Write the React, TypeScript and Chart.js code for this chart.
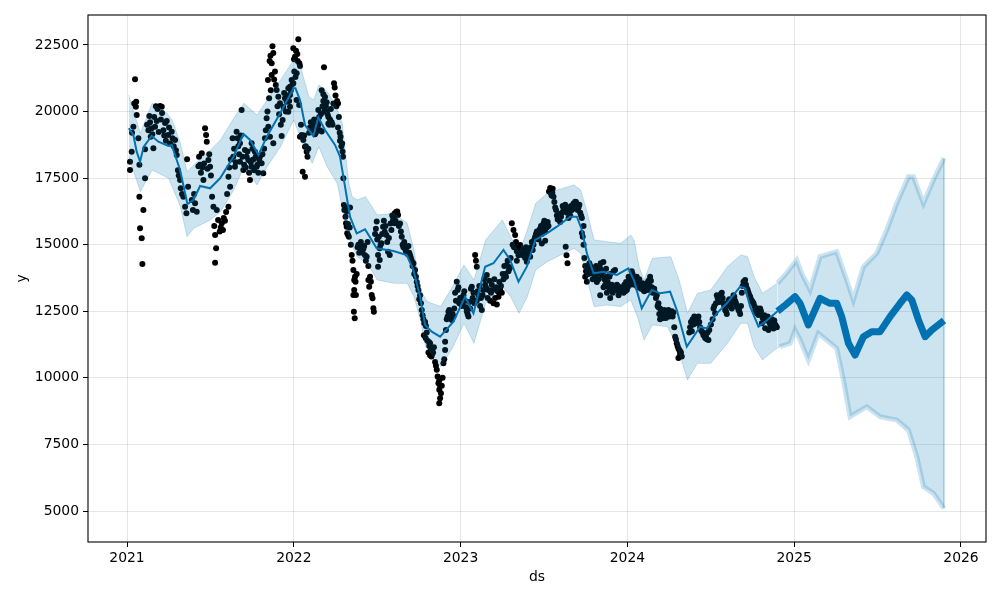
import React, { useEffect, useRef } from 'react';
import { Chart, registerables } from 'chart.js';

Chart.register(...registerables);

// ---- axis ticks ----
const xTickValues = [2021, 2022, 2023, 2024, 2025, 2026];
const yTickValues = [5000, 7500, 10000, 12500, 15000, 17500, 20000, 22500];
const X_MIN = 2020.766;
const X_MAX = 2026.15;
const Y_MIN = 3836;
const Y_MAX = 23626;
const FUTURE_START = 2024.9;

// ---- observations (decimal year, value) ----
const obsYears = [
  2021.018, 2021.018, 2021.028, 2021.030, 2021.038, 2021.043, 2021.048, 2021.053, 2021.055, 2021.058, 2021.068, 2021.074, 2021.074, 2021.078, 2021.088, 2021.092, 2021.098, 2021.108, 2021.108,
  2021.134, 2021.142, 2021.148, 2021.158, 2021.168, 2021.178, 2021.190, 2021.198, 2021.208, 2021.210, 2021.218, 2021.228, 2021.238, 2021.246, 2021.268, 2021.288, 2021.298, 2021.318, 2021.322, 2021.338, 2021.348, 2021.356, 2021.360, 2021.366,
  2021.388, 2021.408, 2021.418, 2021.428, 2021.438, 2021.448, 2021.452, 2021.458, 2021.462, 2021.468, 2021.474, 2021.478, 2021.482, 2021.488, 2021.498, 2021.518, 2021.528, 2021.528, 2021.534, 2021.538, 2021.546, 2021.556, 2021.562, 2021.568, 2021.580, 2021.594, 2021.608, 2021.608, 2021.618,
  2021.633, 2021.637, 2021.647, 2021.657, 2021.667, 2021.677, 2021.677, 2021.687, 2021.697, 2021.707, 2021.717, 2021.727, 2021.737, 2021.747, 2021.747, 2021.757, 2021.767, 2021.777, 2021.797, 2021.807, 2021.817, 2021.827, 2021.837, 2021.845, 2021.847, 2021.855, 2021.857, 2021.860, 2021.867, 2021.867, 2021.872, 2021.877, 2021.877,
  2021.897, 2021.907, 2021.917, 2021.927, 2021.933, 2021.937, 2021.957, 2021.967, 2021.967, 2021.977, 2021.977, 2021.977, 2021.987, 2021.993, 2021.997, 2021.997, 2022.001, 2022.007, 2022.013, 2022.017, 2022.017, 2022.021, 2022.027, 2022.033, 2022.032, 2022.037, 2022.037, 2022.047, 2022.053, 2022.057, 2022.067, 2022.067, 2022.077,
  2022.107, 2022.117, 2022.127, 2022.137, 2022.147, 2022.147, 2022.157, 2022.167, 2022.167, 2022.177, 2022.177, 2022.181, 2022.187, 2022.197, 2022.197, 2022.207, 2022.207, 2022.217, 2022.227, 2022.241, 2022.250, 2022.255, 2022.260, 2022.265, 2022.265, 2022.275, 2022.280, 2022.285, 2022.290, 2022.297,
  2022.300, 2022.303, 2022.307, 2022.310, 2022.313, 2022.317, 2022.317, 2022.320, 2022.325, 2022.325, 2022.335, 2022.337, 2022.347, 2022.357, 2022.357, 2022.360, 2022.362, 2022.362, 2022.365, 2022.367, 2022.370, 2022.372, 2022.397, 2022.407, 2022.412, 2022.417, 2022.427, 2022.437, 2022.447, 2022.452, 2022.457, 2022.462, 2022.467, 2022.472, 2022.477, 2022.480,
  2022.497, 2022.505, 2022.505, 2022.515, 2022.515, 2022.525, 2022.535, 2022.545, 2022.555, 2022.565, 2022.575, 2022.585, 2022.595, 2022.605, 2022.605, 2022.615, 2022.625, 2022.637, 2022.642, 2022.647, 2022.652, 2022.657, 2022.662, 2022.667, 2022.687, 2022.692, 2022.697, 2022.707, 2022.717, 2022.727, 2022.732, 2022.737, 2022.742, 2022.757, 2022.762, 2022.767,
  2022.777, 2022.782, 2022.787, 2022.792, 2022.780, 2022.790, 2022.800, 2022.810, 2022.817, 2022.807, 2022.817, 2022.825, 2022.835, 2022.857, 2022.862, 2022.867, 2022.872, 2022.872, 2022.877, 2022.882, 2022.877, 2022.872, 2022.887, 2022.897, 2022.902, 2022.907, 2022.907, 2022.917, 2022.927, 2022.937, 2022.947, 2022.957,
  2022.967, 2022.977, 2022.987, 2022.997, 2023.007, 2023.017, 2023.027, 2023.037, 2023.047, 2023.057, 2023.067, 2023.077, 2023.087, 2023.092, 2023.097, 2023.097, 2023.107, 2023.117, 2023.127, 2023.147, 2023.157, 2023.167, 2023.177, 2023.187, 2023.197, 2023.207, 2023.217, 2023.227, 2023.237, 2023.247, 2023.257, 2023.267, 2023.277, 2023.287, 2023.297,
  2023.300, 2023.307, 2023.317, 2023.320, 2023.327, 2023.337, 2023.337, 2023.347, 2023.357, 2023.367, 2023.377, 2023.387, 2023.397, 2023.407, 2023.417, 2023.437, 2023.447, 2023.457, 2023.467, 2023.477, 2023.487, 2023.487, 2023.497, 2023.507, 2023.507, 2023.517, 2023.527,
  2023.530, 2023.537, 2023.545, 2023.550, 2023.557, 2023.567, 2023.577, 2023.587, 2023.597, 2023.607, 2023.617, 2023.627, 2023.630, 2023.635, 2023.637, 2023.641, 2023.647, 2023.657, 2023.667, 2023.677, 2023.687, 2023.697, 2023.707, 2023.717, 2023.727, 2023.727, 2023.737, 2023.742, 2023.747, 2023.747, 2023.752, 2023.757,
  2023.777, 2023.797, 2023.817, 2023.817, 2023.837, 2023.837, 2023.840, 2023.856, 2023.857, 2023.857, 2023.877, 2023.877, 2023.897, 2023.897, 2023.917, 2023.926, 2023.937, 2023.947, 2023.957, 2023.967, 2023.977, 2023.997, 2024.017,
  2024.026, 2024.036, 2024.046, 2024.056, 2024.066, 2024.076, 2024.086, 2024.096, 2024.106, 2024.116, 2024.126, 2024.136, 2024.146, 2024.156, 2024.166, 2024.176, 2024.186, 2024.186, 2024.196, 2024.196, 2024.206, 2024.216, 2024.216, 2024.226, 2024.236, 2024.246, 2024.256, 2024.266, 2024.276,
  2024.286, 2024.296, 2024.306, 2024.306, 2024.316, 2024.316, 2024.326, 2024.376, 2024.386, 2024.396, 2024.406, 2024.416, 2024.426, 2024.436, 2024.446, 2024.456, 2024.466, 2024.476, 2024.486,
  2024.516, 2024.526, 2024.536, 2024.546, 2024.556, 2024.566, 2024.576, 2024.586, 2024.596, 2024.606, 2024.616, 2024.626, 2024.636, 2024.646, 2024.656, 2024.666, 2024.676, 2024.696, 2024.706, 2024.716, 2024.726, 2024.736, 2024.746, 2024.756, 2024.766, 2024.776, 2024.786, 2024.796, 2024.806, 2024.816, 2024.826, 2024.836, 2024.846, 2024.856, 2024.866, 2024.876, 2024.886, 2024.896,
];
const obsValues = [
  18118, 17806, 18493, 19200, 19432, 20300, 21212, 20183, 20371, 19871, 18996, 18000, 16804, 15617, 15242, 14276, 16304, 18583, 17494,
  19834, 19057, 19372, 18620, 19432, 19650, 19233, 20209, 20183, 19946, 19300, 19570, 19650, 19120, 19245, 18933, 18369, 17430, 17119, 16804, 16428, 16180, 18209, 17179,
  16680, 16555, 16240, 17950, 18000, 18431, 17900, 17430, 18050, 19372, 19120, 18870, 17850, 18181, 17931, 16428, 15365, 14326, 14865, 16304, 15929, 15500, 15650, 15803, 16000, 16228, 16428, 17554, 17179,
  18996, 18306, 17931, 19245, 18700, 18118, 18808, 20059, 17806, 18557, 18306, 18181, 17430, 18808, 17931, 18200, 18493, 17931, 18306, 18056, 17681, 19000, 19747, 21186, 19432, 21900, 19057, 22100, 21374, 21813, 22450, 18808, 22200,
  20810, 20559, 20310, 19083, 19684, 20183, 20371, 19996, 20874, 20623, 20183, 20936, 21186, 21036, 21061, 22376, 21963, 22061, 22286, 21437, 20435, 22162, 22714, 21813, 20247, 21712, 19057, 19120, 17743, 18933, 18682, 17554, 18493,
  19400, 19300, 19150, 19350, 19500, 20059, 19300, 19250, 20800, 20650, 20400, 21662, 20550, 20350, 20000, 19800, 19550, 19700, 19600, 21061, 20600, 20200, 20400, 20300, 19400, 19200, 19050, 18700, 18800, 17494,
  16492, 16304, 16400, 16054, 15803, 16250, 15678, 15428, 15366, 15780, 15650, 16400, 14615, 14051, 13113, 12487, 13676, 13300, 12237, 13800, 13611, 13113, 14990, 14800, 14700, 14850, 14600, 14550, 13676, 13424, 13800, 13611, 13113, 12988, 12612, 12487,
  15867, 14614, 14174, 14865, 14426, 15052, 15677, 15490, 15365, 14740, 14615, 15553, 15929, 16180, 15803, 16240, 16115, 15800, 15500, 15300, 15000, 14900, 15100, 14850, 14950, 14700, 14600, 14400, 14300, 14050, 13800, 13600, 13450, 13100, 12800, 12550,
  12200, 12050, 12100, 11950, 11600, 11500, 11400, 11350, 11300, 10950, 10850, 10800, 10950, 10300, 10050, 9800, 9900, 9550, 9700, 9420, 9230, 9045, 9700, 10547, 10700, 11360, 11047, 12200, 12487, 12350, 12174, 12300,
  13200, 13611, 13400, 13000, 12700, 13100, 12900, 12500, 12300, 12600, 13424, 13200, 14615, 14400, 14176, 12900, 13100, 12700, 12549, 13500, 13864, 13300, 12900, 13500, 12800, 13000, 12750, 13050, 13300, 13200, 13700, 13900, 14239, 14000, 14150,
  14500, 15803, 15553, 14900, 15365, 14750, 14400, 14600, 14990, 14700, 14800, 14500, 14364, 14700, 14550, 15000, 15300, 15500, 15200, 15600, 15400, 15050, 15800, 15500, 15150, 15650, 15700,
  17000, 17131, 16850, 16950, 16800, 16400, 16100, 16000, 15850, 16200, 16350, 16500, 14927, 14600, 16200, 14302, 16000, 16100, 16300, 16550, 16617, 16500, 16400, 16200, 16000, 15441, 15000, 14500, 14200, 13800, 14000, 13611,
  14200, 13900, 13900, 13600, 14100, 13100, 14300, 14350, 14000, 13400, 13800, 13200, 13900, 13000, 14000, 14051, 13500, 13100, 13350, 13250, 13200, 13300, 13500,
  14000, 13700, 13650, 13800, 13600, 13450, 13400, 13300, 13500, 13550, 13650, 13800, 13400, 13300, 13200, 13100, 12800, 12650, 12600, 12200, 12500, 12450, 12250, 12350, 12400, 12550, 12350, 12500, 12450,
  11547, 11300, 11100, 10750, 10900, 11000, 10800, 11900, 11750, 12000, 12200, 12150, 12300, 11900, 11750, 11600, 11500, 11450, 11420,
  12600, 12424, 13100, 12950, 13100, 13200, 12800, 12550, 12400, 12900, 12800, 12600, 13100, 12900, 12700, 12550, 12400, 13611, 13676, 13363, 13200, 13049, 12900, 12800, 12549, 12424, 12362, 12600, 12049, 12300, 11861, 12200, 11798, 12000, 12200, 11850, 12000, 11900,
];

// ---- more observations read between the clusters above ----
const obsYears2 = [
  2021.120, 2021.128, 2021.138, 2021.152, 2021.163, 2021.173, 2021.183, 2021.203, 2021.223, 2021.233, 2021.252, 2021.258, 2021.273, 2021.280, 2021.293, 2021.305, 2021.310, 2021.330,
  2021.395, 2021.402, 2021.432, 2021.443, 2021.493, 2021.503, 2021.510, 2021.523, 2021.575, 2021.587, 2021.600, 2021.613, 2021.622,
  2021.642, 2021.652, 2021.662, 2021.672, 2021.682, 2021.692, 2021.702, 2021.712, 2021.722, 2021.732, 2021.742, 2021.752, 2021.762, 2021.772, 2021.782, 2021.787, 2021.792, 2021.812, 2021.822, 2021.832, 2021.842, 2021.852, 2021.862, 2021.882, 2021.887, 2021.892,
  2021.902, 2021.912, 2021.922, 2021.942, 2021.947, 2021.952, 2021.962, 2021.972, 2021.982, 2022.003, 2022.010, 2022.023, 2022.043, 2022.062, 2022.072, 2022.082, 2022.087,
  2022.092, 2022.097, 2022.102, 2022.112, 2022.122, 2022.132, 2022.142, 2022.152, 2022.162, 2022.172, 2022.182, 2022.192, 2022.202, 2022.212, 2022.222, 2022.232, 2022.237, 2022.245, 2022.270, 2022.277, 2022.292, 2022.295,
  2022.330, 2022.342, 2022.352, 2022.377, 2022.382, 2022.387, 2022.392, 2022.402, 2022.422, 2022.432, 2022.442, 2022.447, 2022.487, 2022.492,
  2022.500, 2022.510, 2022.520, 2022.530, 2022.540, 2022.550, 2022.560, 2022.570, 2022.580, 2022.590, 2022.600, 2022.610, 2022.620, 2022.630, 2022.672, 2022.677, 2022.682, 2022.702, 2022.712, 2022.722, 2022.747, 2022.752,
  2022.772, 2022.797, 2022.812, 2022.822, 2022.830, 2022.840, 2022.847, 2022.852, 2022.892, 2022.912, 2022.922, 2022.932, 2022.942, 2022.952, 2022.962,
  2022.972, 2022.982, 2022.992, 2023.002, 2023.012, 2023.022, 2023.032, 2023.042, 2023.052, 2023.062, 2023.072, 2023.082, 2023.102, 2023.112, 2023.122, 2023.132, 2023.137, 2023.142, 2023.152, 2023.162, 2023.172, 2023.182, 2023.192, 2023.202, 2023.212, 2023.222, 2023.232, 2023.242, 2023.252, 2023.262, 2023.272, 2023.282, 2023.292,
  2023.312, 2023.332, 2023.342, 2023.352, 2023.362, 2023.372, 2023.382, 2023.392, 2023.402, 2023.412, 2023.422, 2023.427, 2023.432, 2023.442, 2023.452, 2023.462, 2023.472, 2023.482, 2023.492, 2023.502, 2023.512, 2023.522, 2023.540, 2023.552,
  2023.562, 2023.572, 2023.582, 2023.592, 2023.602, 2023.612, 2023.622, 2023.642, 2023.652, 2023.662, 2023.672, 2023.682, 2023.692, 2023.702, 2023.712, 2023.722, 2023.732, 2023.737,
  2023.762, 2023.767, 2023.772, 2023.782, 2023.787, 2023.792, 2023.802, 2023.807, 2023.812, 2023.822, 2023.827, 2023.832, 2023.847, 2023.862, 2023.867, 2023.872, 2023.882, 2023.887, 2023.892, 2023.902, 2023.907, 2023.912, 2023.922, 2023.932, 2023.942, 2023.952, 2023.962, 2023.972, 2023.982, 2023.987, 2023.992, 2024.002, 2024.007, 2024.012, 2024.022, 2024.031, 2024.041, 2024.051, 2024.061, 2024.071,
  2024.081, 2024.091, 2024.101, 2024.111, 2024.121, 2024.131, 2024.141, 2024.151, 2024.161, 2024.171, 2024.181, 2024.191, 2024.201, 2024.211, 2024.221, 2024.231, 2024.241, 2024.251, 2024.261, 2024.271, 2024.281, 2024.291, 2024.301, 2024.311, 2024.321,
  2024.371, 2024.381, 2024.391, 2024.401, 2024.411, 2024.421, 2024.431, 2024.441, 2024.451, 2024.461, 2024.471, 2024.481, 2024.491, 2024.501, 2024.511,
  2024.521, 2024.531, 2024.541, 2024.551, 2024.561, 2024.571, 2024.581, 2024.591, 2024.601, 2024.611, 2024.621, 2024.631, 2024.641, 2024.651, 2024.661, 2024.671, 2024.681, 2024.686, 2024.691, 2024.701, 2024.711, 2024.721, 2024.731, 2024.741, 2024.751, 2024.761, 2024.771, 2024.781, 2024.791, 2024.801, 2024.811, 2024.821, 2024.831, 2024.841, 2024.851, 2024.861, 2024.871, 2024.881, 2024.891,
];
const obsValues2 = [
  19500, 19300, 19600, 19150, 19800, 20200, 20100, 19700, 19100, 18900, 19400, 18800, 19000, 18700, 18550, 17800, 17600, 16900,
  16300, 16900, 18300, 17700, 18400, 17600, 16800, 15700, 15550, 15900, 16900, 17900, 18200,
  18600, 18100, 19000, 18400, 19100, 18300, 18000, 17900, 18500, 17700, 18100, 18600, 17800, 18300, 18000, 17700, 18200, 18400, 18600, 19300, 20000, 20500, 20800, 21200, 21500, 21000,
  20200, 19900, 19500, 20700, 20500, 20000, 20600, 20400, 20800, 21500, 21300, 21900, 19500, 19100, 18700, 18300, 18600,
  19200, 19400, 19600, 19500, 19700, 19200, 19600, 19800, 19900, 20200, 20000, 20200, 19900, 19500, 20100, 19500, 20300, 20900, 19800, 18900, 18500, 18300,
  15300, 15000, 14400, 13900, 14900, 15000, 14700, 15100, 14950, 14400, 15100, 14200, 15400, 15600,
  15200, 15300, 15000, 15400, 15900, 15700, 15100, 15250, 15800, 16100, 16000, 15900, 16250, 15700, 14750, 14900, 14650, 14500, 14200, 13900, 13300, 12950,
  12350, 11700, 11200, 11050, 10900, 11150, 10600, 10450, 10000, 11800, 12300, 12550, 12250, 12400, 12600,
  12900, 13300, 12800, 13000, 12750, 13250, 12650, 12400, 12850, 13350, 13000, 12800, 13250, 13450, 13000, 13100, 13300, 13700, 13400, 13000, 13650, 13200, 13300, 13700, 13400, 13250, 13600, 13450, 13900, 14200, 13800, 14400, 14100,
  15000, 15100, 14900, 14700, 14850, 14600, 14650, 14900, 14550, 14800, 14900, 15100, 14800, 15200, 15400, 15300, 15550, 15700, 15650, 15900, 15750, 15850, 16950, 17100,
  16600, 16300, 15950, 16150, 16050, 16450, 16300, 16400, 16250, 16450, 16350, 16500, 16600, 16300, 16500, 16100, 15300, 15700,
  14100, 13900, 14300, 13950, 14100, 13700, 14050, 13800, 14200, 14000, 13700, 14150, 13850, 13700, 13500, 14100, 13600, 13400, 13800, 13300, 13500, 13200, 13400, 13300, 13450, 13250, 13400, 13350, 13500, 13250, 13600, 13400, 13800, 13700, 13600, 13900, 13500, 13600, 13400, 13700,
  13350, 13550, 13250, 13400, 13300, 13500, 13650, 13200, 13350, 13000, 12700, 12400, 12350, 12300, 12550, 12250, 12450, 12300, 12400, 12300, 11900, 11450, 11200, 11050, 10950,
  11700, 12100, 12200, 12300, 12050, 12250, 12100, 11800, 11700, 11650, 11550, 11700, 11800, 12000, 12200,
  12700, 12800, 13000, 12850, 13150, 13000, 12700, 12500, 12700, 12950, 12750, 12850, 13050, 12800, 12650, 12500, 12700, 13200, 13450, 13550, 13500, 13300, 13100, 12950, 12850, 12700, 12500, 12600, 12400, 12500, 12250, 12350, 12150, 12300, 12100, 11950, 12050, 12150, 11950,
];

// ---- fitted trend over history ----
const fitYears = [
  2021.010, 2021.038, 2021.058, 2021.078, 2021.100, 2021.148, 2021.188, 2021.248, 2021.268, 2021.318, 2021.362, 2021.398, 2021.438, 2021.498, 2021.558, 2021.638, 2021.698, 2021.738, 2021.788, 2021.838, 2021.918, 2021.998,
  2022.010, 2022.037, 2022.067, 2022.117, 2022.147, 2022.187, 2022.247, 2022.277, 2022.307, 2022.337, 2022.377, 2022.427, 2022.497, 2022.597, 2022.677, 2022.717, 2022.757, 2022.787, 2022.827, 2022.877, 2022.957,
  2023.027, 2023.077, 2023.147, 2023.197, 2023.257, 2023.297, 2023.347, 2023.397, 2023.447, 2023.517, 2023.577, 2023.657, 2023.697, 2023.727, 2023.757, 2023.797, 2023.857, 2023.937,
  2024.006, 2024.040, 2024.086, 2024.146, 2024.196, 2024.256, 2024.296, 2024.356, 2024.396, 2024.436, 2024.476, 2024.536, 2024.596, 2024.676, 2024.706, 2024.736, 2024.786, 2024.826, 2024.900,
];
const fitValues = [
  19372, 19121, 18495, 18118, 18682, 19083, 18869, 18707, 18745, 17806, 16529, 16680, 17205, 17119, 17494, 18306, 19158, 18933, 18369, 19057, 19935, 20874,
  20874, 20435, 19496, 19083, 19785, 19308, 18745, 18306, 17179, 16052, 15429, 15579, 14865, 14765, 14614, 14051, 13048, 11986, 11734, 11546, 12110,
  13048, 12425, 14174, 14302, 14802, 14426, 13611, 14174, 15177, 15429, 15677, 16052, 16052, 15553, 14677, 13926, 13987, 13863,
  14113, 13650, 12613, 13300, 13175, 13236, 12549, 11171, 11546, 11922, 11859, 12425, 12800, 13423, 13363, 12675, 11922, 12110, 12500,
];

// ---- forecast beyond history ----
const forecastYears = [
  2024.900, 2024.950, 2025.005, 2025.035, 2025.085, 2025.115, 2025.155, 2025.215, 2025.255, 2025.285, 2025.325, 2025.365,
  2025.415, 2025.465, 2025.515, 2025.575, 2025.635, 2025.675, 2025.705, 2025.745, 2025.785, 2025.825, 2025.898,
];
const forecastValues = [
  12500, 12750, 13048, 12800, 11986, 12425, 12987, 12800, 12800, 12299, 11299, 10859,
  11546, 11734, 11734, 12299, 12800, 13112, 12926, 12174, 11546, 11798, 12150,
];

// ---- uncertainty interval ----
const upperYears = [
  2021.010, 2021.080, 2021.150, 2021.240, 2021.270, 2021.320, 2021.360, 2021.400, 2021.500, 2021.560, 2021.640, 2021.700, 2021.780, 2021.840, 2021.920,
  2022.000, 2022.040, 2022.090, 2022.120, 2022.150, 2022.200, 2022.250, 2022.290, 2022.300, 2022.330, 2022.350, 2022.380, 2022.430, 2022.500, 2022.600, 2022.680, 2022.720, 2022.760, 2022.800, 2022.880, 2022.940,
  2023.020, 2023.080, 2023.150, 2023.250, 2023.300, 2023.350, 2023.400, 2023.450, 2023.520, 2023.580, 2023.680, 2023.720, 2023.760, 2023.800, 2023.880, 2023.960,
  2024.020, 2024.040, 2024.070, 2024.100, 2024.150, 2024.260, 2024.310, 2024.360, 2024.420, 2024.500, 2024.600, 2024.680, 2024.720, 2024.760, 2024.810, 2024.900, 2024.950,
  2025.015, 2025.045, 2025.095, 2025.155, 2025.255, 2025.315, 2025.355, 2025.415, 2025.495, 2025.555, 2025.615, 2025.685, 2025.715, 2025.775, 2025.835, 2025.898,
];
const upperValues = [
  20623, 19184, 20310, 19935, 19684, 18808, 17743, 17994, 18557, 18933, 19747, 20310, 19872, 20435, 21186,
  21937, 21687, 20560, 20435, 20998, 20748, 20247, 19559, 19000, 17300, 16804, 16680, 16804, 16117, 16180, 15804, 14802, 13300, 12863, 12675, 13300,
  14239, 13676, 15178, 15929, 15304, 14677, 15553, 16555, 16930, 17055, 17243, 17055, 16180, 15178, 15115, 15052,
  15366, 15178, 14177, 13676, 14489, 14552, 13676, 12424, 13175, 13300, 14177, 14615, 14552, 13800, 13175, 13551, 13900,
  14426, 13926, 13300, 14551, 14739, 13676, 12926, 14174, 14677, 15553, 16555, 17554, 17554, 16555, 17430, 18250,
];
const lowerYears = [
  2021.010, 2021.080, 2021.150, 2021.250, 2021.320, 2021.360, 2021.400, 2021.500, 2021.560, 2021.640, 2021.700, 2021.780, 2021.840, 2021.920,
  2022.000, 2022.060, 2022.110, 2022.150, 2022.200, 2022.260, 2022.310, 2022.340, 2022.380, 2022.440, 2022.500, 2022.600, 2022.680, 2022.720, 2022.760, 2022.790, 2022.840, 2022.880, 2022.950,
  2023.020, 2023.080, 2023.150, 2023.250, 2023.300, 2023.350, 2023.400, 2023.450, 2023.520, 2023.580, 2023.680, 2023.720, 2023.760, 2023.800, 2023.880, 2023.960,
  2024.020, 2024.060, 2024.100, 2024.150, 2024.240, 2024.300, 2024.360, 2024.420, 2024.500, 2024.600, 2024.680, 2024.720, 2024.760, 2024.810, 2024.880, 2024.915, 2024.976,
  2025.005, 2025.036, 2025.085, 2025.145, 2025.255, 2025.295, 2025.335, 2025.435, 2025.515, 2025.615, 2025.685, 2025.735, 2025.775, 2025.835, 2025.898,
];
const lowerValues = [
  18306, 16992, 17806, 17494, 16429, 15303, 15617, 15929, 16242, 17055, 17932, 17243, 17932, 18682,
  19684, 18682, 18056, 18682, 17932, 17306, 15800, 15100, 14552, 14302, 13676, 13551, 13551, 13049, 12174, 11171, 10797, 10422, 11100,
  12049, 11299, 12800, 13424, 13049, 12424, 13049, 14051, 14364, 14552, 14865, 14677, 13676, 12675, 12737, 12675,
  12925, 12299, 11423, 11986, 11924, 11171, 9921, 10547, 10547, 11299, 12049, 12049, 11171, 10672, 11047, 11171, 11299,
  11798, 11423, 10671, 11672, 11109, 9920, 8542, 8918, 8542, 8418, 8042, 7041, 5914, 5664, 5100,
];

const BLUE = '#0072B2';
const BAND = 'rgba(0,114,178,0.2)';
const GRID = 'rgba(128,128,128,0.2)';
const FONT = { family: "'DejaVu Sans', sans-serif", size: 13.9 };

const pts = (xs: number[], ys: number[]) => xs.map((x, i) => ({ x, y: ys[i] }));

const framePlugin = {
  id: 'frame',
  afterDraw(chart: any) {
    const { ctx, chartArea: a } = chart;
    ctx.save();
    ctx.strokeStyle = '#000';
    ctx.lineWidth = 1.1;
    ctx.strokeRect(a.left, a.top, a.right - a.left, a.bottom - a.top);
    ctx.restore();
  },
};

const bandEdgeWidth = (ctx: any) => (ctx.p0.parsed.x >= FUTURE_START ? 5 : 1);

export default function App() {
  const ref = useRef<HTMLCanvasElement>(null);

  useEffect(() => {
    const lastU = upperValues.length - 1;
    const lastL = lowerValues.length - 1;
    const chart = new Chart(ref.current as HTMLCanvasElement, {
      type: 'line',
      data: {
        datasets: [
          {
            data: pts(lowerYears, lowerValues),
            borderColor: BAND,
            borderWidth: 1,
            pointRadius: 0,
            fill: false,
            order: 0,
            segment: { borderWidth: bandEdgeWidth },
          } as any,
          {
            data: pts(upperYears, upperValues),
            borderColor: BAND,
            backgroundColor: BAND,
            borderWidth: 1,
            pointRadius: 0,
            fill: '-1',
            order: 0,
            segment: { borderWidth: bandEdgeWidth },
          } as any,
          {
            data: [
              { x: upperYears[lastU], y: upperValues[lastU] },
              { x: lowerYears[lastL], y: lowerValues[lastL] },
            ],
            borderColor: 'rgba(0,114,178,0.3)',
            borderWidth: 1.5,
            pointRadius: 0,
            fill: false,
            order: 0,
          } as any,
          {
            data: pts(fitYears, fitValues),
            borderColor: BLUE,
            borderWidth: 2,
            pointRadius: 0,
            fill: false,
            order: 1,
          } as any,
          {
            data: pts(forecastYears, forecastValues),
            borderColor: BLUE,
            borderWidth: 7,
            borderJoinStyle: 'round',
            borderCapStyle: 'butt',
            pointRadius: 0,
            fill: false,
            order: 1,
          } as any,
          {
            type: 'scatter',
            data: pts(obsYears, obsValues).concat(pts(obsYears2, obsValues2)),
            showLine: false,
            pointRadius: 3,
            pointBorderWidth: 0,
            pointBackgroundColor: '#000',
            backgroundColor: '#000',
            borderColor: '#000',
            order: 2,
          } as any,
        ],
      },
      options: {
        responsive: false,
        animation: false,
        events: [],
        layout: { padding: { left: 0, right: 14, top: 15, bottom: 0 } },
        plugins: { legend: { display: false }, tooltip: { enabled: false } },
        scales: {
          x: {
            type: 'linear',
            min: X_MIN,
            max: X_MAX,
            afterBuildTicks: (s: any) => {
              s.ticks = xTickValues.map((v) => ({ value: v }));
            },
            afterFit: (s: any) => {
              s.height = 58;
            },
            ticks: {
              callback: (v: any) => String(v),
              color: '#000',
              padding: 3,
              autoSkip: false,
              maxRotation: 0,
              font: FONT,
            },
            grid: { color: GRID, tickColor: '#000', tickLength: 5, lineWidth: 1 },
            border: { display: false },
            title: { display: true, text: 'ds', color: '#000', font: FONT, padding: { top: 0, bottom: 14 } },
          },
          y: {
            type: 'linear',
            min: Y_MIN,
            max: Y_MAX,
            afterBuildTicks: (s: any) => {
              s.ticks = yTickValues.map((v) => ({ value: v }));
            },
            afterFit: (s: any) => {
              s.width = 88;
            },
            ticks: {
              callback: (v: any) => String(v),
              color: '#000',
              padding: 4,
              autoSkip: false,
              font: FONT,
            },
            grid: { color: GRID, tickColor: '#000', tickLength: 5, lineWidth: 1 },
            border: { display: false },
            title: { display: true, text: 'y', color: '#000', font: FONT, padding: { top: 14, bottom: 0 } },
          },
        },
      } as any,
      plugins: [framePlugin],
    });
    return () => chart.destroy();
  }, []);

  return (
    <div style={{ position: 'fixed', left: 0, top: 0, width: 1000, height: 600, background: '#fff' }}>
      <canvas ref={ref} width={1000} height={600} style={{ display: 'block', width: 1000, height: 600 }} />
    </div>
  );
}
